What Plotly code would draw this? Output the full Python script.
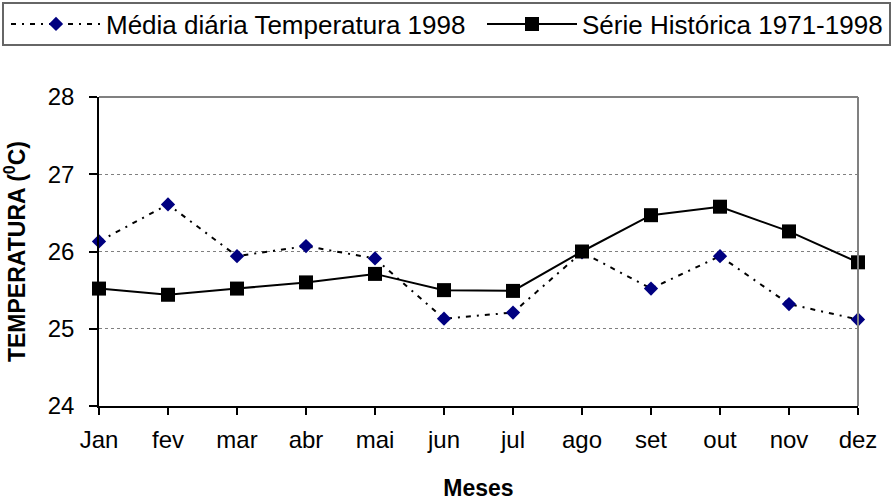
import plotly.graph_objects as go

# dados
meses = ['Jan', 'fev', 'mar', 'abr', 'mai', 'jun', 'jul', 'ago', 'set', 'out', 'nov', 'dez']
media_1998 = [26.13, 26.61, 25.94, 26.07, 25.91, 25.13, 25.21, 25.99, 25.52, 25.94, 25.32, 25.12]
serie_hist = [25.52, 25.44, 25.52, 25.60, 25.71, 25.50, 25.49, 26.00, 26.47, 26.58, 26.26, 25.86]

nome_media = 'Média diária Temperatura 1998'
nome_serie = 'Série Histórica 1971-1998'

fonte = 'Liberation Sans, Arial, sans-serif'
W, H = 893, 501

fig = go.Figure()

fig.add_trace(go.Scatter(
    x=meses, y=media_1998, name=nome_media, mode='lines+markers',
    line=dict(color='black', width=2, dash='5px,6px,2px,6px'),
    marker=dict(symbol='diamond', size=11, color='#000080', line=dict(width=0)),
    cliponaxis=False, legend='legend', showlegend=True,
))
fig.add_trace(go.Scatter(
    x=meses, y=serie_hist, name=nome_serie, mode='lines+markers',
    line=dict(color='black', width=2),
    marker=dict(symbol='square', size=14, color='black', line=dict(width=0)),
    cliponaxis=False, legend='legend2', showlegend=True,
))

fig.update_xaxes(
    type='category', range=[0, len(meses) - 1],
    showline=True, linecolor='black', linewidth=1.5,
    ticks='outside', ticklen=7, tickcolor='black', tickwidth=1.5,
    ticklabelstandoff=4,
    showgrid=False, zeroline=False,
    tickfont=dict(size=24, color='black'),
    title=dict(text='<b>Meses</b>', font=dict(size=23, color='black'), standoff=34),
)
fig.update_yaxes(
    range=[24, 28], dtick=1,
    showline=True, linecolor='black', linewidth=1.5,
    ticks='outside', ticklen=8, tickcolor='black', tickwidth=1.5,
    ticklabelstandoff=10,
    showgrid=True, gridcolor='#808080', griddash='dot', gridwidth=1,
    zeroline=False,
    tickfont=dict(size=24, color='black'),
    title=dict(text='<b>TEMPERATURA (<sup>0</sup>C)</b>', font=dict(size=23, color='black'), standoff=18),
)

# borda cinza superior e direita da area do grafico
fig.add_shape(type='line', xref='paper', yref='paper', x0=0, x1=1, y0=1, y1=1,
              line=dict(color='#808080', width=2))
fig.add_shape(type='line', xref='paper', yref='paper', x0=1, x1=1, y0=0, y1=1,
              line=dict(color='#808080', width=2))

# moldura da legenda (em px da pagina convertidos para paper)
ml, mr, mt, mb = 99, 35, 97, 95
pw, ph = W - ml - mr, H - mt - mb
fig.add_shape(type='rect', xref='paper', yref='paper',
              x0=(3 - ml) / pw, x1=(890 - ml) / pw,
              y0=(H - mb - 45) / ph, y1=(H - mb - 3) / ph,
              line=dict(color='#666666', width=2), fillcolor='rgba(0,0,0,0)')

leg = dict(
    orientation='h', xanchor='left', yanchor='middle', y=1 - 24 / H,
    xref='container', yref='container',
    font=dict(size=26, color='black'),
    borderwidth=0, bgcolor='rgba(0,0,0,0)', itemwidth=90,
)

fig.update_layout(
    width=W, height=H,
    margin=dict(l=ml, r=mr, t=mt, b=mb, autoexpand=False),
    paper_bgcolor='white', plot_bgcolor='white',
    font=dict(family=fonte, color='black'),
    showlegend=True,
    legend=dict(leg, x=6 / W),
    legend2=dict(leg, x=482 / W),
)

fig.write_html('out.html', config={'displayModeBar': False},
               post_script="document.body.style.margin='0';")
